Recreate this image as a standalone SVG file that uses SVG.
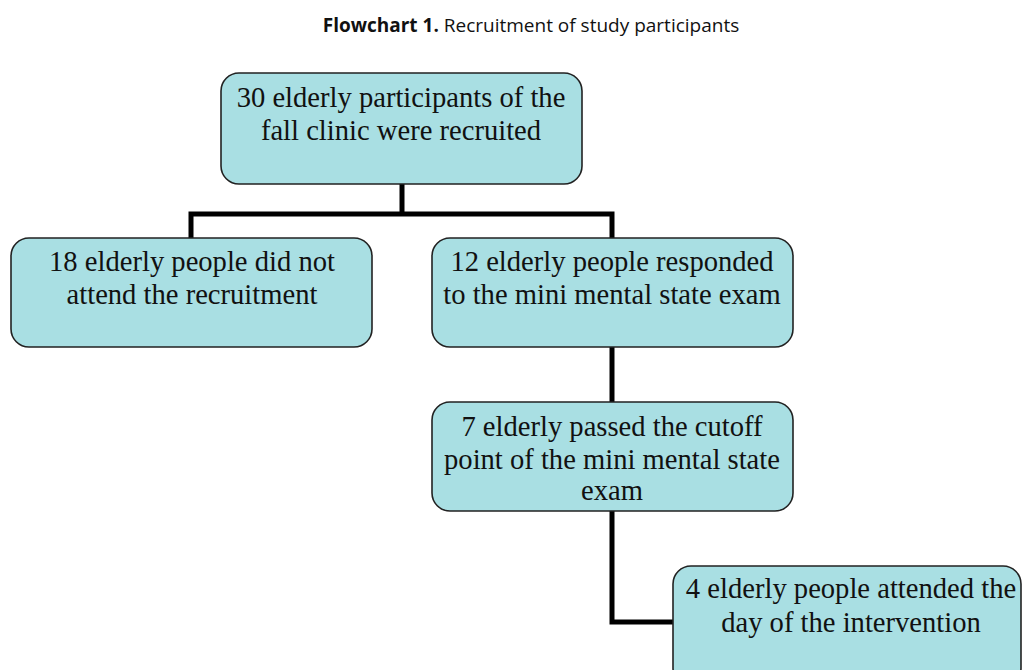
<svg xmlns="http://www.w3.org/2000/svg" width="1022" height="670" viewBox="0 0 1022 670">
<style>
.box{fill:#a9dfe3;stroke:#222;stroke-width:1.6}
.t{font-family:"Liberation Serif","Times New Roman",serif;font-size:28.6px;fill:#111;text-anchor:middle}
.c{fill:none;stroke:#000;stroke-width:5;stroke-linejoin:miter;stroke-linecap:square}
.title{font-family:"Open Sans",sans-serif;font-size:19px;fill:#111;text-anchor:middle}
</style>
<rect width="1022" height="670" fill="#fff"/>
<text class="title" x="531" y="32"><tspan font-weight="bold">Flowchart 1.</tspan> Recruitment of study participants</text>
<g id="connectors">
<path class="c" d="M402,184 V214 M191,238 V214 H612 V238"/>
<path class="c" d="M612,347 V402"/>
<path class="c" d="M612,511 V622 H673"/>
</g>
<g id="n1">
<rect class="box" x="221" y="73" width="361" height="111" rx="18"/>
<text class="t" x="401" y="107">30 elderly participants of the</text>
<text class="t" x="401" y="140">fall clinic were recruited</text>
</g>
<g id="n2">
<rect class="box" x="11" y="238" width="361" height="109" rx="18"/>
<text class="t" x="192" y="271">18 elderly people did not</text>
<text class="t" x="192" y="304">attend the recruitment</text>
</g>
<g id="n3">
<rect class="box" x="432" y="238" width="361" height="109" rx="18"/>
<text class="t" x="612" y="271">12 elderly people responded</text>
<text class="t" x="612" y="304">to the mini mental state exam</text>
</g>
<g id="n4">
<rect class="box" x="432" y="402" width="361" height="109" rx="18"/>
<text class="t" x="612" y="436">7 elderly passed the cutoff</text>
<text class="t" x="612" y="469">point of the mini mental state</text>
<text class="t" x="612" y="500">exam</text>
</g>
<g id="n5">
<rect class="box" x="673" y="566" width="348" height="120" rx="18"/>
<text class="t" x="851" y="598">4 elderly people attended the</text>
<text class="t" x="851" y="632">day of the intervention</text>
</g>
</svg>
